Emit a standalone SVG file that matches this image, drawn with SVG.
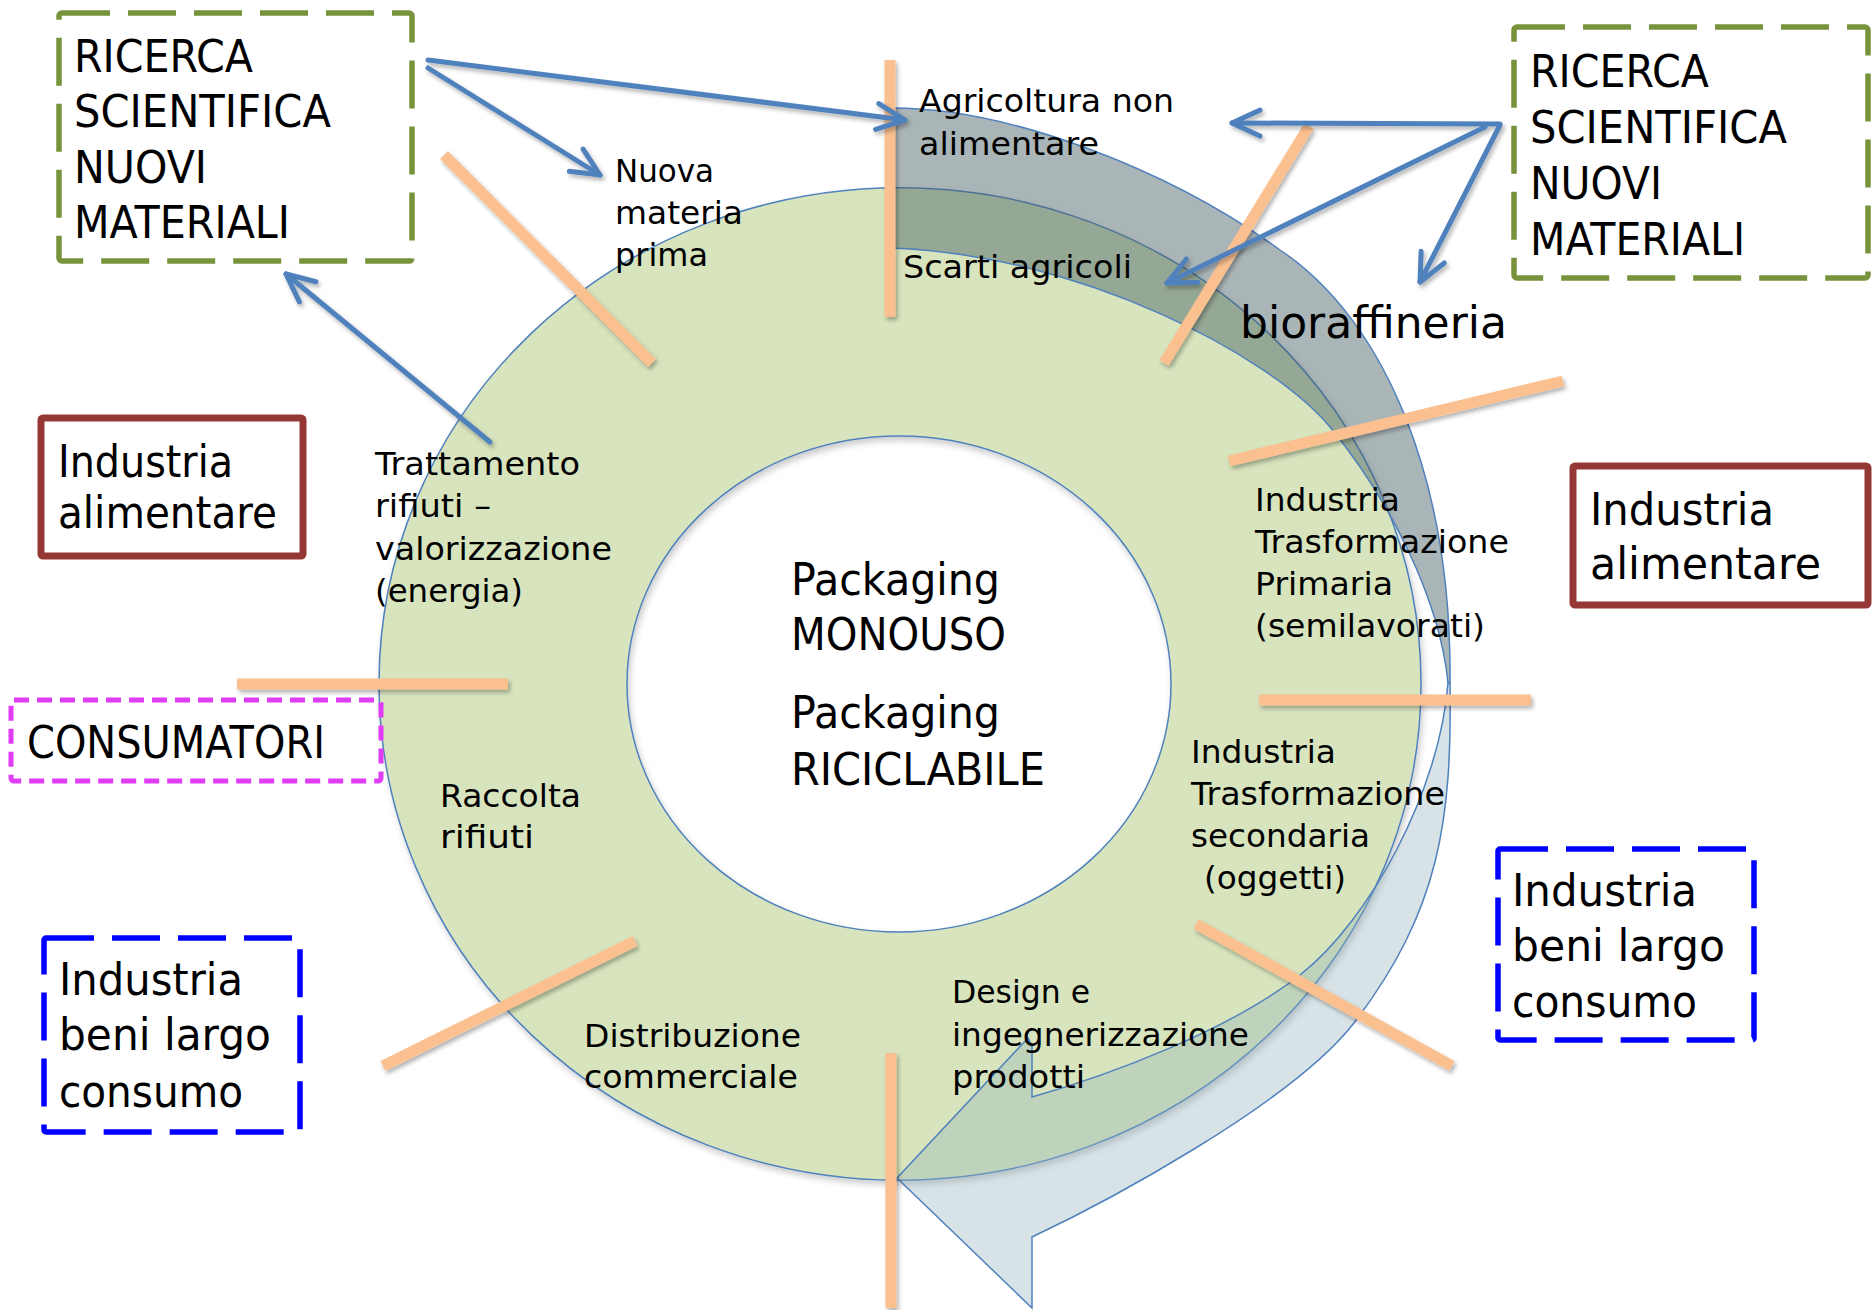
<svg xmlns="http://www.w3.org/2000/svg" width="1874" height="1310" viewBox="0 0 1874 1310">
<defs>
<style>
text{font-family:"DejaVu Sans","Liberation Sans",sans-serif;fill:#000;}
.lb{font-size:32px;}
.bx{font-size:45px;}
.big{font-size:44px;}
.sep{stroke:#FAC090;stroke-width:11;stroke-linecap:butt;fill:none;}
.con{stroke:#4F81BD;stroke-width:5;fill:none;stroke-linecap:round;}
.gbox{fill:none;stroke:#77933C;stroke-width:5.5;stroke-dasharray:48 18;}
.bbox{fill:none;stroke:#0000FF;stroke-width:5.5;stroke-dasharray:48 18;}
.rbox{fill:none;stroke:#953735;stroke-width:7;}
.mbox{fill:none;stroke:#E03CF5;stroke-width:5;stroke-dasharray:15 8;}
</style>
<filter id="sh" x="-20%" y="-20%" width="140%" height="140%">
<feDropShadow dx="2" dy="3" stdDeviation="2" flood-color="#000" flood-opacity="0.3"/>
</filter>
<filter id="shr" x="-10%" y="-10%" width="120%" height="120%">
<feDropShadow dx="2" dy="4" stdDeviation="3" flood-color="#000" flood-opacity="0.2"/>
</filter>
<marker id="ah" markerUnits="userSpaceOnUse" viewBox="-34 -20 38 40" refX="0" refY="0" markerWidth="38" markerHeight="40" orient="auto" overflow="visible">
<path d="M-28,-13 L0,0 L-28,13" fill="none" stroke="#4F81BD" stroke-width="5" stroke-linecap="round" stroke-linejoin="round"/>
</marker>
</defs>
<rect width="1874" height="1310" fill="#fff"/>

<g id="ring" filter="url(#shr)">
<path fill-rule="evenodd" fill="#D7E4BD" stroke="#4F81BD" stroke-width="1.5" d="M379,684 a521,496 0 1,0 1042,0 a521,496 0 1,0 -1042,0 Z M627,684 a272,248 0 1,0 544,0 a272,248 0 1,0 -544,0 Z"/>
</g>

<g id="cycle-arrow">
<path fill="#4A6268" fill-opacity="0.47" stroke="#4F81BD" stroke-width="1.5" d="M892,108 C1010,108 1170,170 1280,250 C1385,320 1452,480 1450,683 L1448,683 C1440,600 1390,500 1330,427 C1270,355 1080,255 892,248 Z"/>
<path fill="#93B3BC" fill-opacity="0.37" stroke="#4F81BD" stroke-width="1.5" d="M1450,683 C1452,820 1440,910 1354,1023 C1290,1105 1100,1205 1032,1237 L1032,1308 L897,1178 L1028,1038 L1032,1046 L1032,1097 C1110,1075 1230,1030 1300,975 C1370,920 1440,790 1448,683 Z"/>
</g>

<g id="separators" filter="url(#sh)">
<line class="sep" x1="890" y1="60" x2="890" y2="317"/>
<line class="sep" x1="1309" y1="126" x2="1164" y2="363"/>
<line class="sep" x1="1229" y1="461" x2="1563" y2="381"/>
<line class="sep" x1="1259" y1="700" x2="1531" y2="700"/>
<line class="sep" x1="1196" y1="924" x2="1452" y2="1066"/>
<line class="sep" x1="891" y1="1053" x2="891" y2="1308"/>
<line class="sep" x1="635" y1="941" x2="383" y2="1066"/>
<line class="sep" x1="237" y1="684" x2="508" y2="684"/>
<line class="sep" x1="444" y1="155" x2="652" y2="363"/>
</g>

<g id="connectors" filter="url(#sh)">
<line class="con" x1="428" y1="60" x2="905" y2="120" marker-end="url(#ah)"/>
<line class="con" x1="428" y1="68" x2="600" y2="175" marker-end="url(#ah)"/>
<line class="con" x1="490" y1="442" x2="286" y2="274" marker-end="url(#ah)"/>
<line class="con" x1="1500" y1="124" x2="1232" y2="123" marker-end="url(#ah)"/>
<line class="con" x1="1485" y1="127" x2="1167" y2="283" marker-end="url(#ah)"/>
<line class="con" x1="1500" y1="125" x2="1420" y2="282" marker-end="url(#ah)"/>
</g>

<g id="ring-labels">
<g id="lbl-nuova"><text class="lb" x="615" y="182" textLength="99" lengthAdjust="spacingAndGlyphs">Nuova</text><text class="lb" x="615" y="224" textLength="128" lengthAdjust="spacingAndGlyphs">materia</text><text class="lb" x="615" y="266" textLength="93" lengthAdjust="spacingAndGlyphs">prima</text></g>
<g id="lbl-agricoltura"><text class="lb" x="919" y="112" textLength="255" lengthAdjust="spacingAndGlyphs">Agricoltura non</text><text class="lb" x="919" y="155" textLength="180" lengthAdjust="spacingAndGlyphs">alimentare</text></g>
<g id="lbl-scarti"><text class="lb" x="903" y="278" textLength="229" lengthAdjust="spacingAndGlyphs">Scarti agricoli</text></g>
<g id="lbl-bioraffineria"><text class="big" x="1240" y="338" textLength="267" lengthAdjust="spacingAndGlyphs">bioraffineria</text></g>
<g id="lbl-primaria"><text class="lb" x="1255" y="511" textLength="145" lengthAdjust="spacingAndGlyphs">Industria</text><text class="lb" x="1255" y="553" textLength="254" lengthAdjust="spacingAndGlyphs">Trasformazione</text><text class="lb" x="1255" y="595" textLength="138" lengthAdjust="spacingAndGlyphs">Primaria</text><text class="lb" x="1255" y="637" textLength="230" lengthAdjust="spacingAndGlyphs">(semilavorati)</text></g>
<g id="lbl-secondaria"><text class="lb" x="1191" y="763" textLength="145" lengthAdjust="spacingAndGlyphs">Industria</text><text class="lb" x="1191" y="805" textLength="254" lengthAdjust="spacingAndGlyphs">Trasformazione</text><text class="lb" x="1191" y="847" textLength="179" lengthAdjust="spacingAndGlyphs">secondaria</text><text class="lb" x="1204" y="889" textLength="142" lengthAdjust="spacingAndGlyphs">(oggetti)</text></g>
<g id="lbl-design"><text class="lb" x="952" y="1003" textLength="138" lengthAdjust="spacingAndGlyphs">Design e</text><text class="lb" x="952" y="1046" textLength="297" lengthAdjust="spacingAndGlyphs">ingegnerizzazione</text><text class="lb" x="952" y="1088" textLength="133" lengthAdjust="spacingAndGlyphs">prodotti</text></g>
<g id="lbl-distribuzione"><text class="lb" x="584" y="1047" textLength="217" lengthAdjust="spacingAndGlyphs">Distribuzione</text><text class="lb" x="584" y="1088" textLength="214" lengthAdjust="spacingAndGlyphs">commerciale</text></g>
<g id="lbl-raccolta"><text class="lb" x="440" y="807" textLength="141" lengthAdjust="spacingAndGlyphs">Raccolta</text><text class="lb" x="440" y="848" textLength="94" lengthAdjust="spacingAndGlyphs">rifiuti</text></g>
<g id="lbl-trattamento"><text class="lb" x="375" y="475" textLength="205" lengthAdjust="spacingAndGlyphs">Trattamento</text><text class="lb" x="375" y="517" textLength="116" lengthAdjust="spacingAndGlyphs">rifiuti –</text><text class="lb" x="375" y="560" textLength="237" lengthAdjust="spacingAndGlyphs">valorizzazione</text><text class="lb" x="375" y="602" textLength="148" lengthAdjust="spacingAndGlyphs">(energia)</text></g>
<g id="lbl-center"><text class="bx" x="791" y="595" textLength="209" lengthAdjust="spacingAndGlyphs">Packaging</text><text class="bx" x="791" y="650" textLength="215" lengthAdjust="spacingAndGlyphs">MONOUSO</text><text class="bx" x="791" y="728" textLength="209" lengthAdjust="spacingAndGlyphs">Packaging</text><text class="bx" x="791" y="785" textLength="254" lengthAdjust="spacingAndGlyphs">RICICLABILE</text></g>
</g>

<g id="ricerca-left">
<rect class="gbox" x="59" y="13" width="353" height="248" rx="3"/>
<text class="bx" x="74" y="72" textLength="179" lengthAdjust="spacingAndGlyphs">RICERCA</text>
<text class="bx" x="74" y="127" textLength="257" lengthAdjust="spacingAndGlyphs">SCIENTIFICA</text>
<text class="bx" x="74" y="183" textLength="133" lengthAdjust="spacingAndGlyphs">NUOVI</text>
<text class="bx" x="74" y="238" textLength="216" lengthAdjust="spacingAndGlyphs">MATERIALI</text>
</g>

<g id="ricerca-right">
<rect class="gbox" x="1514" y="27" width="354" height="251" rx="3"/>
<text class="bx" x="1530" y="87" textLength="179" lengthAdjust="spacingAndGlyphs">RICERCA</text>
<text class="bx" x="1530" y="143" textLength="257" lengthAdjust="spacingAndGlyphs">SCIENTIFICA</text>
<text class="bx" x="1530" y="199" textLength="132" lengthAdjust="spacingAndGlyphs">NUOVI</text>
<text class="bx" x="1530" y="255" textLength="215" lengthAdjust="spacingAndGlyphs">MATERIALI</text>
</g>

<g id="alimentare-left">
<rect class="rbox" x="41" y="418" width="262" height="138" rx="2"/>
<text class="bx" x="58" y="477" textLength="175" lengthAdjust="spacingAndGlyphs">Industria</text>
<text class="bx" x="58" y="528" textLength="219" lengthAdjust="spacingAndGlyphs">alimentare</text>
</g>

<g id="alimentare-right">
<rect class="rbox" x="1573" y="466" width="295" height="139" rx="2"/>
<text class="bx" x="1590" y="525" textLength="184" lengthAdjust="spacingAndGlyphs">Industria</text>
<text class="bx" x="1590" y="579" textLength="231" lengthAdjust="spacingAndGlyphs">alimentare</text>
</g>

<g id="consumatori">
<rect class="mbox" x="11" y="700" width="370" height="81" rx="3"/>
<text class="bx" x="27" y="758" textLength="298" lengthAdjust="spacingAndGlyphs">CONSUMATORI</text>
</g>

<g id="beni-left">
<rect class="bbox" x="44" y="938" width="256" height="194" rx="2"/>
<text class="bx" x="59" y="995" textLength="184" lengthAdjust="spacingAndGlyphs">Industria</text>
<text class="bx" x="59" y="1050" textLength="212" lengthAdjust="spacingAndGlyphs">beni largo</text>
<text class="bx" x="59" y="1107" textLength="184" lengthAdjust="spacingAndGlyphs">consumo</text>
</g>

<g id="beni-right">
<rect class="bbox" x="1498" y="849" width="256" height="191" rx="2"/>
<text class="bx" x="1512" y="906" textLength="185" lengthAdjust="spacingAndGlyphs">Industria</text>
<text class="bx" x="1512" y="961" textLength="213" lengthAdjust="spacingAndGlyphs">beni largo</text>
<text class="bx" x="1512" y="1017" textLength="185" lengthAdjust="spacingAndGlyphs">consumo</text>
</g>
</svg>
